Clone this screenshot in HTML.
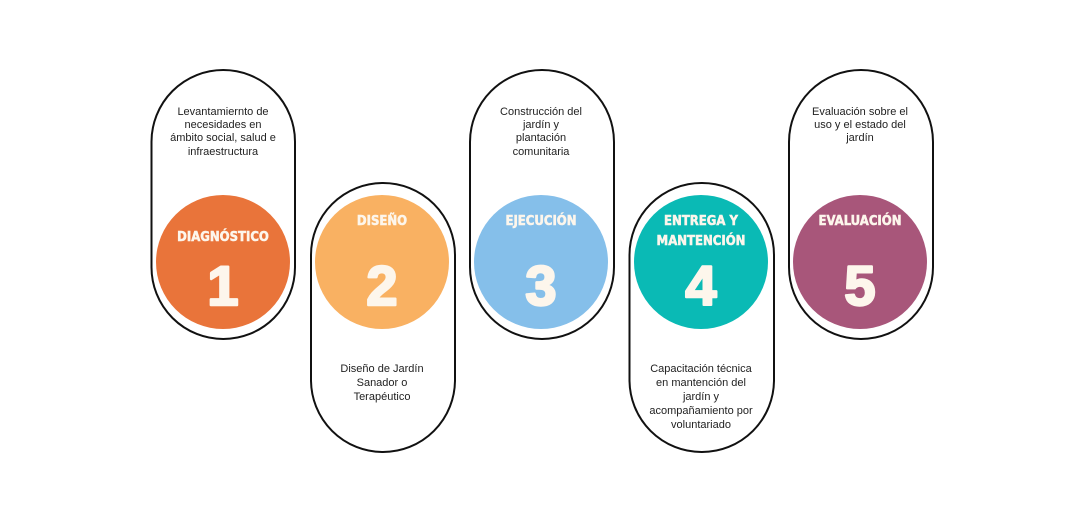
<!DOCTYPE html>
<html><head><meta charset="utf-8"><style>
html,body{margin:0;padding:0;background:#fff;}
svg{display:block}
.d{font-family:"Liberation Sans",sans-serif;font-size:11px;fill:#222;text-anchor:middle}
.t{font-family:"DejaVu Sans Condensed","Liberation Sans",sans-serif;font-weight:bold;font-size:13px;fill:#fdf6ec;stroke:#fdf6ec;stroke-width:0.5;text-anchor:middle}
.n{font-family:"Liberation Sans",sans-serif;font-weight:bold;font-size:56px;fill:#fdf6ec;stroke:#fdf6ec;stroke-width:2.5;stroke-linejoin:round;text-anchor:middle}
.p{fill:#fff;stroke:#111;stroke-width:2}
</style></head><body>
<svg width="1078" height="516" viewBox="0 0 1078 516">
<rect x="151.5" y="70" width="143.5" height="269" rx="71.75" class="p"/>
<rect x="311" y="183" width="144" height="269" rx="72" class="p"/>
<rect x="470" y="70" width="144" height="269" rx="72" class="p"/>
<rect x="629.5" y="183" width="144.5" height="269" rx="72" class="p"/>
<rect x="789" y="70" width="144" height="269" rx="72" class="p"/>

<circle cx="223" cy="262" r="67" fill="#e9743a"/>
<circle cx="382" cy="262" r="67" fill="#f9b162"/>
<circle cx="541" cy="262" r="67" fill="#85bfea"/>
<circle cx="701" cy="262" r="67" fill="#0abab5"/>
<circle cx="860" cy="262" r="67" fill="#a8567a"/>

<text class="t" x="223" y="241">DIAGNÓSTICO</text>
<text class="t" x="382" y="225">DISEÑO</text>
<text class="t" x="541" y="225">EJECUCIÓN</text>
<text class="t" x="701" y="225">ENTREGA Y</text>
<text class="t" x="701" y="245">MANTENCIÓN</text>
<text class="t" x="860" y="225">EVALUACIÓN</text>

<text class="n" x="223" y="305">1</text>
<text class="n" x="382" y="305">2</text>
<text class="n" x="541" y="305">3</text>
<text class="n" x="701" y="305">4</text>
<text class="n" x="860" y="305">5</text>

<text class="d" x="223" y="115">Levantamiernto de</text>
<text class="d" x="223" y="128">necesidades en</text>
<text class="d" x="223" y="141">ámbito social, salud e</text>
<text class="d" x="223" y="155">infraestructura</text>

<text class="d" x="382" y="372">Diseño de Jardín</text>
<text class="d" x="382" y="386">Sanador o</text>
<text class="d" x="382" y="400">Terapéutico</text>

<text class="d" x="541" y="115">Construcción del</text>
<text class="d" x="541" y="128">jardín y</text>
<text class="d" x="541" y="141">plantación</text>
<text class="d" x="541" y="155">comunitaria</text>

<text class="d" x="701" y="372">Capacitación técnica</text>
<text class="d" x="701" y="386">en mantención del</text>
<text class="d" x="701" y="400">jardín y</text>
<text class="d" x="701" y="414">acompañamiento por</text>
<text class="d" x="701" y="428">voluntariado</text>

<text class="d" x="860" y="115">Evaluación sobre el</text>
<text class="d" x="860" y="128">uso y el estado del</text>
<text class="d" x="860" y="141">jardín</text>
</svg>
</body></html>
